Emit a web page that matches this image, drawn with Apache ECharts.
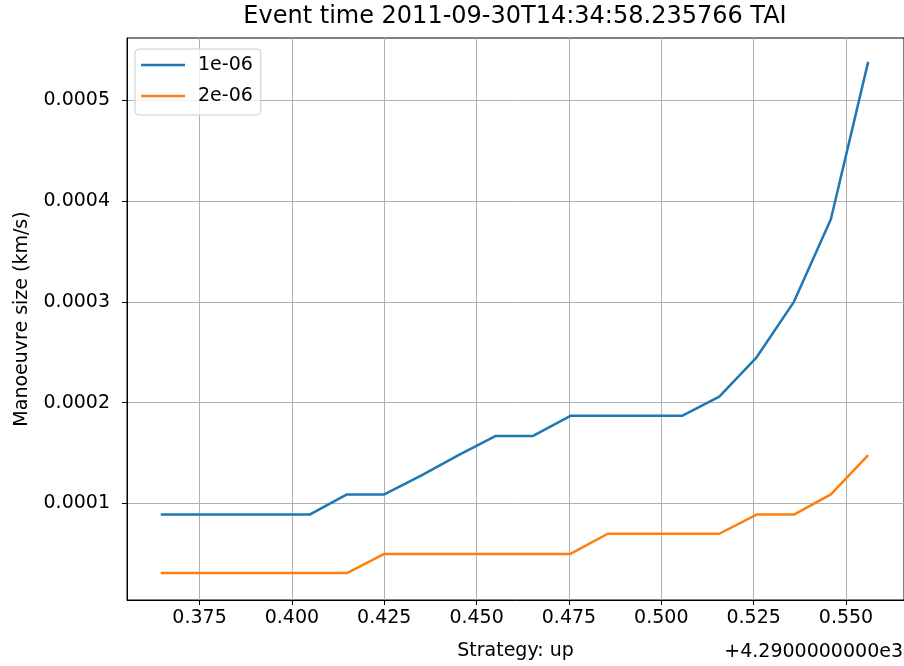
<!DOCTYPE html>
<html>
<head>
<meta charset="utf-8">
<script src="https://cdn.jsdelivr.net/npm/echarts@6/dist/echarts.min.js"></script>
<style>
html,body{margin:0;padding:0;background:#fff;}
#chart{width:904px;height:666px;}
</style>
</head>
<body>
<div id="chart"></div>
<script>
const titleText = "Event time 2011-09-30T14:34:58.235766 TAI";
const xName = "Strategy: up";
const yName = "Manoeuvre size (km/s)";
const offsetText = "+4.2900000000e3";
const seriesNames = ["1e-06", "2e-06"];
const xValues = [0.3645, 0.3746, 0.3847, 0.3947, 0.4048, 0.4149, 0.4250, 0.4351, 0.4451, 0.4552,
                 0.4653, 0.4754, 0.4855, 0.4955, 0.5056, 0.5157, 0.5258, 0.5359, 0.5459, 0.5560];
const blueValues = [8.9e-5, 8.9e-5, 8.9e-5, 8.9e-5, 8.9e-5, 1.09e-4, 1.09e-4, 1.28e-4, 1.48e-4, 1.67e-4,
                    1.67e-4, 1.87e-4, 1.87e-4, 1.87e-4, 1.87e-4, 2.06e-4, 2.45e-4, 3.0e-4, 3.82e-4, 5.38e-4];
const orangeValues = [3.1e-5, 3.1e-5, 3.1e-5, 3.1e-5, 3.1e-5, 3.1e-5, 5.0e-5, 5.0e-5, 5.0e-5, 5.0e-5,
                      5.0e-5, 5.0e-5, 7.0e-5, 7.0e-5, 7.0e-5, 7.0e-5, 8.9e-5, 8.9e-5, 1.09e-4, 1.48e-4];
const xTicks = [0.375, 0.400, 0.425, 0.450, 0.475, 0.500, 0.525, 0.550];
const yTicks = [0.0001, 0.0002, 0.0003, 0.0004, 0.0005];

const FONT = "DejaVu Sans";
const chart = echarts.init(document.getElementById('chart'), null, {renderer: 'canvas'});
const pair = (xs, ys) => xs.map((x, i) => [x, ys[i]]);

chart.setOption({
  animation: false,
  backgroundColor: '#ffffff',
  grid: {left: 127, top: 38, right: 0, bottom: 65, show: true, borderColor: '#000', borderWidth: 1, backgroundColor: 'transparent'},
  graphic: [
    {type: 'text', x: 515, y: 17, style: {text: titleText, font: '24px "DejaVu Sans"', fill: '#000', align: 'center', verticalAlign: 'middle'}},
    {type: 'text', x: 903, y: 643, style: {text: offsetText, font: '19px "DejaVu Sans"', fill: '#000', align: 'right', verticalAlign: 'top'}}
  ],
  legend: {
    orient: 'vertical', left: 135, top: 49,
    data: seriesNames,
    icon: 'rect',
    itemWidth: 44, itemHeight: 2.5, itemGap: 9,
    backgroundColor: 'rgba(255,255,255,0.8)', borderColor: '#cccccc', borderWidth: 1, borderRadius: 4,
    padding: [5, 8, 8, 6],
    textStyle: {fontFamily: FONT, fontSize: 19, color: '#000', lineHeight: 22, padding: [0, 0, 0, 8]}
  },
  xAxis: {
    type: 'value', min: 0.35536, max: 0.5657,
    name: xName, nameLocation: 'middle', nameGap: 42,
    nameTextStyle: {fontFamily: FONT, fontSize: 19, color: '#000'},
    axisLine: {show: true, onZero: false, lineStyle: {color: '#000', width: 1}},
    axisTick: {show: true, customValues: xTicks, length: 5, lineStyle: {color: '#000'}},
    axisLabel: {customValues: xTicks, fontFamily: FONT, fontSize: 19, color: '#000', margin: 9, formatter: v => v.toFixed(3)},
    splitLine: {show: true, lineStyle: {color: '#b0b0b0', width: 1}}
  },
  yAxis: {
    type: 'value', min: 4.3e-6, max: 5.617e-4,
    name: yName, nameLocation: 'middle', nameGap: 95, nameRotate: 90,
    nameTextStyle: {fontFamily: FONT, fontSize: 19, color: '#000'},
    axisLine: {show: true, onZero: false, lineStyle: {color: '#000', width: 1}},
    axisTick: {show: true, customValues: yTicks, length: 5, lineStyle: {color: '#000'}},
    axisLabel: {customValues: yTicks, fontFamily: FONT, fontSize: 19, color: '#000', margin: 17, formatter: v => v.toFixed(4)},
    splitLine: {show: true, lineStyle: {color: '#b0b0b0', width: 1}}
  },
  series: [
    {name: seriesNames[0], type: 'line', data: pair(xValues, blueValues), symbol: 'none', lineStyle: {color: '#1f77b4', width: 2.5}, itemStyle: {color: '#1f77b4'}},
    {name: seriesNames[1], type: 'line', data: pair(xValues, orangeValues), symbol: 'none', lineStyle: {color: '#ff7f0e', width: 2.5}, itemStyle: {color: '#ff7f0e'}}
  ]
});
</script>
</body>
</html>
